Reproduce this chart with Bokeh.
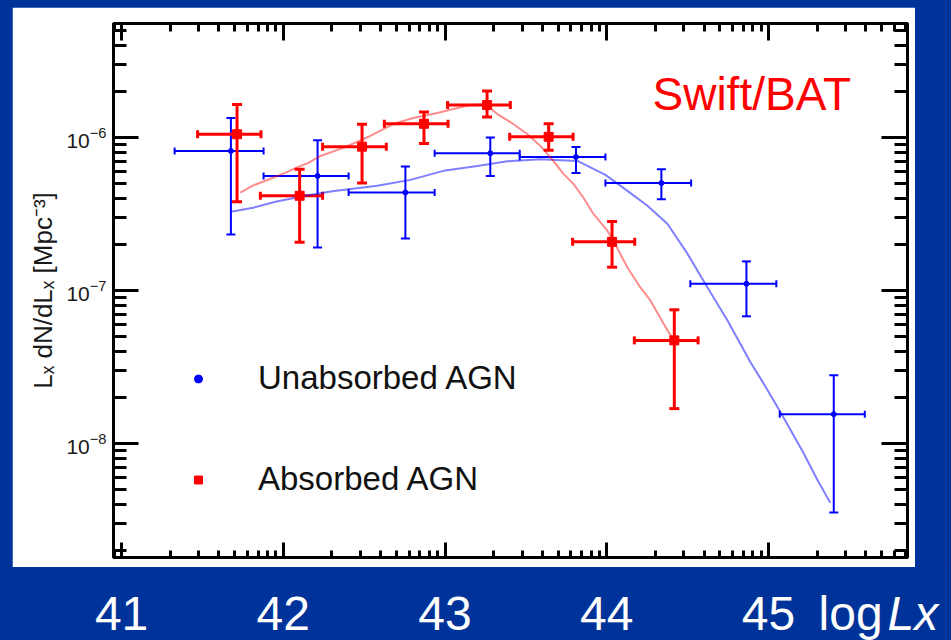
import numpy as np
from bokeh.plotting import figure
from bokeh.models import (Range1d, LinearAxis, LogAxis, FixedTicker, Whisker, TeeHead,
                          ColumnDataSource, Legend, LegendItem, Label, Spacer)
from bokeh.layouts import column, row
from bokeh.embed import file_html
from bokeh.resources import INLINE
from bokeh.core.properties import value

# ---------------- data ----------------
# Unabsorbed AGN (blue)
unabs_logL = [41.676, 42.212, 42.755, 43.280, 43.810, 44.338, 44.864, 45.404]
unabs_logL_lo = [41.328, 41.878, 42.404, 42.936, 43.462, 43.992, 44.517, 45.070]
unabs_logL_hi = [41.878, 42.404, 42.936, 43.462, 43.992, 44.522, 45.049, 45.596]
unabs_phi = [8.17e-7, 5.61e-7, 4.37e-7, 7.89e-7, 7.46e-7, 5.04e-7, 1.107e-7, 1.556e-8]
unabs_phi_hi = [1.34e-6, 9.59e-7, 6.46e-7, 9.98e-7, 8.67e-7, 6.21e-7, 1.55e-7, 2.79e-8]
unabs_phi_lo = [2.32e-7, 1.91e-7, 2.19e-7, 5.61e-7, 5.85e-7, 3.95e-7, 6.78e-8, 3.54e-9]

# Absorbed AGN (red)
abs_logL = [41.714, 42.101, 42.487, 42.870, 43.260, 43.641, 44.033, 44.418]
abs_logL_lo = [41.470, 41.858, 42.243, 42.625, 43.016, 43.400, 43.789, 44.171]
abs_logL_hi = [41.862, 42.243, 42.637, 43.019, 43.404, 43.792, 44.173, 44.565]
abs_phi = [1.05e-6, 4.16e-7, 8.71e-7, 1.23e-6, 1.63e-6, 1.01e-6, 2.08e-7, 4.72e-8]
abs_phi_hi = [1.64e-6, 6.21e-7, 1.22e-6, 1.47e-6, 2.01e-6, 1.23e-6, 2.82e-7, 7.48e-8]
abs_phi_lo = [3.80e-7, 2.07e-7, 5.04e-7, 9.12e-7, 1.36e-6, 8.26e-7, 1.42e-7, 1.69e-8]

# model curves (log10 phi)
unabs_model_logL = [41.676, 41.814, 41.951, 42.136, 42.303, 42.581, 42.786, 42.990, 43.200,
                    43.386, 43.590, 43.819, 43.992, 44.128, 44.252, 44.375, 44.499, 44.623,
                    44.746, 44.889, 44.969, 45.056, 45.137, 45.217, 45.303, 45.383]
unabs_model_logphi = [-6.485, -6.459, -6.420, -6.381, -6.352, -6.316, -6.277, -6.218, -6.186,
                      -6.156, -6.142, -6.153, -6.244, -6.349, -6.446, -6.564, -6.759, -6.980,
                      -7.195, -7.469, -7.606, -7.762, -7.912, -8.062, -8.238, -8.388]
abs_model_logL = [41.734, 41.808, 41.889, 42.012, 42.093, 42.155, 42.229, 42.371, 42.538,
                  42.680, 42.804, 42.953, 43.052, 43.157, 43.249, 43.324, 43.404, 43.509,
                  43.590, 43.670, 43.732, 43.794, 43.856, 43.917, 44.004, 44.041, 44.128,
                  44.208, 44.270, 44.351, 44.413]
abs_model_logphi = [-6.360, -6.316, -6.283, -6.231, -6.192, -6.166, -6.121, -6.068, -5.990,
                    -5.912, -5.873, -5.840, -5.814, -5.788, -5.782, -5.847, -5.899, -5.977,
                    -6.055, -6.153, -6.238, -6.303, -6.394, -6.498, -6.609, -6.674, -6.850,
                    -6.980, -7.065, -7.215, -7.326]

x_tick_values = [41, 42, 43, 44, 45]
x_tick_labels = ["41", "42", "43", "44", "45"]
y_tick_values = [1e-8, 1e-7, 1e-6, 1e-5]

X_RANGE = (40.95, 45.86)
Y_RANGE = (10 ** -8.745, 10 ** -5.255)

BLUE_BG = "#003399"
FONT = "Liberation Sans"

# ---------------- main (white) panel ----------------
LEFT_PAD, TOP_PAD = 12, 7
FRAME_W, FRAME_H = 794, 534
BORDER_L, BORDER_R, BORDER_T, BORDER_B = 101, 8, 16, 10
P_W = BORDER_L + FRAME_W + BORDER_R
P_H = BORDER_T + FRAME_H + BORDER_B

p = figure(title=None, x_range=Range1d(*X_RANGE), y_range=Range1d(*Y_RANGE), y_axis_type="log",
           frame_width=FRAME_W, frame_height=FRAME_H,
           min_border_left=BORDER_L, min_border_right=BORDER_R,
           min_border_top=BORDER_T, min_border_bottom=BORDER_B,
           output_backend="svg", toolbar_location=None,
           background_fill_color="white", border_fill_color="white",
           outline_line_color="black", outline_line_width=3)
p.grid.visible = False

x_minor = [d + np.log10(k) for d in range(40, 46) for k in range(2, 10)]
y_minor = [k * 10.0 ** e for e in range(-10, -4) for k in range(2, 10)]

def ticks_common(ax, major, minor):
    ax.major_tick_in = major
    ax.major_tick_out = 0
    ax.minor_tick_in = minor
    ax.minor_tick_out = 0
    ax.major_tick_line_width = 3
    ax.minor_tick_line_width = 3
    ax.axis_line_width = 3

def hide_labels(ax):
    ax.major_label_text_font_size = "1px"
    ax.major_label_text_color = None
    ax.major_label_standoff = 0

def style_x(ax, major, minor):
    ax.ticker = FixedTicker(ticks=x_tick_values, minor_ticks=x_minor)
    ticks_common(ax, major, minor)
    hide_labels(ax)

def style_y(ax, major, minor):
    ax.ticker = FixedTicker(ticks=y_tick_values, minor_ticks=y_minor)
    ticks_common(ax, major, minor)

style_x(p.xaxis[0], 15, 7)
style_y(p.yaxis[0], 25, 13)
p.yaxis[0].major_label_text_font = FONT
p.yaxis[0].major_label_text_font_size = "21px"
p.yaxis[0].major_label_text_color = "#1a1a1a"
p.yaxis[0].major_label_standoff = 7
p.yaxis[0].axis_label = "Lₓ dN/dLₓ [Mpc⁻³]"
p.yaxis[0].axis_label_text_font = FONT
p.yaxis[0].axis_label_text_font_size = "26px"
p.yaxis[0].axis_label_text_font_style = "normal"
p.yaxis[0].axis_label_text_color = "#1a1a1a"
p.yaxis[0].axis_label_standoff = 5

top_ax = LinearAxis()
style_x(top_ax, 17, 8)
p.add_layout(top_ax, "above")

right_ax = LogAxis()
style_y(right_ax, 26, 13)
hide_labels(right_ax)
p.add_layout(right_ax, "right")

# model curves
p.line(unabs_model_logL, [10 ** v for v in unabs_model_logphi],
       line_color="blue", line_alpha=0.5, line_width=2)
p.line(abs_model_logL, [10 ** v for v in abs_model_logphi],
       line_color="red", line_alpha=0.45, line_width=2)

src_u = ColumnDataSource(dict(x=unabs_logL, xlo=unabs_logL_lo, xhi=unabs_logL_hi,
                              y=unabs_phi, ylo=unabs_phi_lo, yhi=unabs_phi_hi))
src_a = ColumnDataSource(dict(x=abs_logL, xlo=abs_logL_lo, xhi=abs_logL_hi,
                              y=abs_phi, ylo=abs_phi_lo, yhi=abs_phi_hi))

def errbars(src, color, lw, ycap, xcap):
    p.add_layout(Whisker(source=src, base="x", lower="ylo", upper="yhi", dimension="height",
                         line_color=color, line_width=lw,
                         upper_head=TeeHead(size=ycap, line_color=color, line_width=lw),
                         lower_head=TeeHead(size=ycap, line_color=color, line_width=lw)))
    p.add_layout(Whisker(source=src, base="y", lower="xlo", upper="xhi", dimension="width",
                         line_color=color, line_width=lw,
                         upper_head=TeeHead(size=xcap, line_color=color, line_width=lw),
                         lower_head=TeeHead(size=xcap, line_color=color, line_width=lw)))

errbars(src_u, "blue", 2, 9, 7)
errbars(src_a, "red", 3, 10, 8)

r_u = p.scatter("x", "y", source=src_u, marker="circle", size=5, color="blue")
r_a = p.scatter("x", "y", source=src_a, marker="square", size=9, color="red")

legend = Legend(items=[LegendItem(label="Unabsorbed AGN", renderers=[r_u]),
                       LegendItem(label="Absorbed AGN", renderers=[r_a])],
                location=(75, 59), glyph_width=20, glyph_height=31, label_height=31,
                spacing=63, label_standoff=50, padding=0, margin=0,
                border_line_color=None, background_fill_alpha=0,
                label_text_font=FONT, label_text_font_size="33px", label_text_color="#111111")
p.add_layout(legend)

p.add_layout(Label(x=44.283, y=1.93e-6, text="Swift/BAT", text_color="red",
                   text_font=FONT, text_font_size="46px", text_baseline="middle"))

# ---------------- bottom (blue) strip with the large tick labels ----------------
ppu = FRAME_W / (X_RANGE[1] - X_RANGE[0])
B_W = 951
B_H = 640 - TOP_PAD - P_H
frame_left_px = LEFT_PAD + BORDER_L
b_start = X_RANGE[0] - frame_left_px / ppu
b_end = b_start + B_W / ppu
b = figure(title=None, x_range=Range1d(b_start, b_end), y_range=Range1d(0, B_H),
           frame_width=B_W, frame_height=B_H, min_border=0,
           output_backend="svg", toolbar_location=None,
           background_fill_color=BLUE_BG, border_fill_color=BLUE_BG,
           outline_line_color=None)
b.axis.visible = False
b.grid.visible = False
LABEL_Y = 27
b.text(x=x_tick_values, y=[LABEL_Y] * len(x_tick_values), text=x_tick_labels,
       text_font=value(FONT), text_font_size="48px", text_color="white",
       text_align="center", text_baseline="middle")
b.add_layout(Label(x=45.31, y=LABEL_Y, text="log", text_color="white", text_font=FONT,
                   text_font_size="48px", text_baseline="middle"))
b.add_layout(Label(x=45.736, y=LABEL_Y, text="Lx", text_color="white", text_font=FONT,
                   text_font_size="48px", text_font_style="italic", text_baseline="middle"))

layout = column(Spacer(width=B_W, height=TOP_PAD),
                row(Spacer(width=LEFT_PAD, height=P_H), p),
                b)

html = file_html(layout, INLINE, title="AGN luminosity function")
html = html.replace("</head>", "<style>html,body{background:%s;}</style></head>" % BLUE_BG, 1)
open("out.html", "w").write(html)
